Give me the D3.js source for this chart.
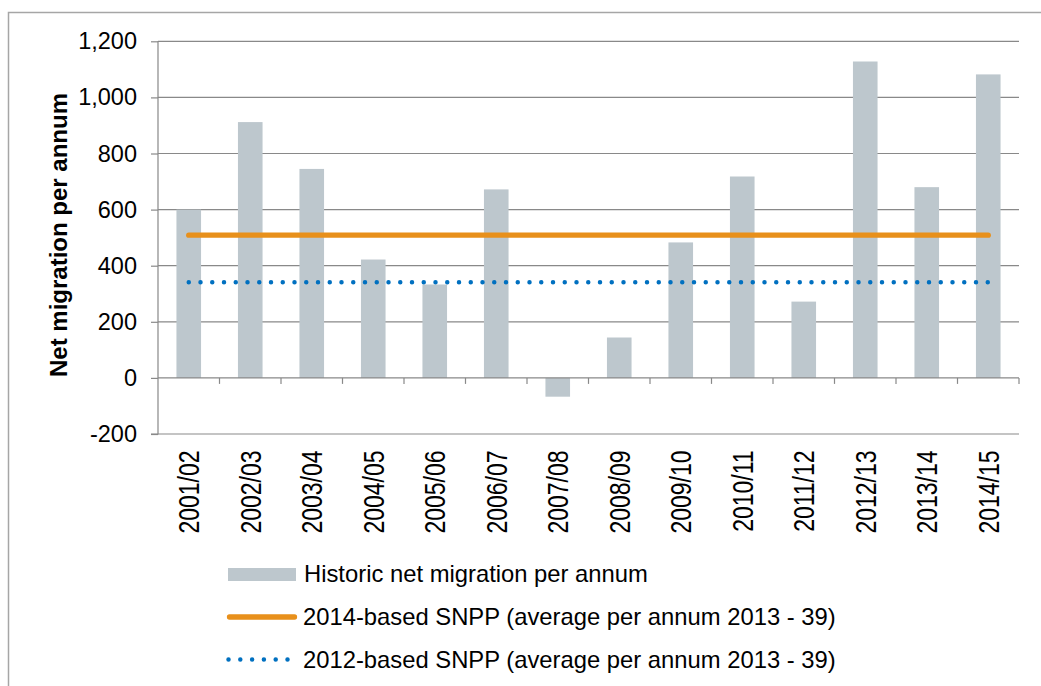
<!DOCTYPE html>
<html lang="en">
<head>
<meta charset="utf-8">
<title>Net migration</title>
<style>
	body { margin: 0; background: #fff; }
	svg { display: block; font-family: Arial, "Liberation Sans", sans-serif; }
	.tick-label { font-size: 23.5px; fill: #000; }
	.legend-text { font-size: 23.8px; fill: #000; }
</style>
</head>
<body>
<svg width="1041" height="686"></svg>
<script src="https://d3js.org/d3.v7.min.js"></script>
<script>
	// data
	var years = ["2001/02", "2002/03", "2003/04", "2004/05", "2005/06", "2006/07", "2007/08",
		"2008/09", "2009/10", "2010/11", "2011/12", "2012/13", "2013/14", "2014/15"];
	var historic = [600, 912, 745, 422, 333, 672, -67, 144, 483, 718, 272, 1128, 680, 1082];
	var snpp2014 = 509;
	var snpp2012 = 341;
	var yTicks = [-200, 0, 200, 400, 600, 800, 1000, 1200];
	var legendLabels = ["Historic net migration per annum",
		"2014-based SNPP (average per annum 2013 - 39)",
		"2012-based SNPP (average per annum 2013 - 39)"];

	var svg = d3.select("svg");
	var grey = "#898989";

	// outer chart frame
	svg.append("rect")
		.attr("x", 8.5).attr("y", 12.5)
		.attr("width", 1100).attr("height", 800)
		.attr("fill", "none").attr("stroke", "#a6a6a6").attr("stroke-width", 1.5);

	var plot = { left: 158, right: 1019, top: 41.3, bottom: 434 };

	var x = d3.scaleBand().domain(years)
		.range([plot.left, plot.right])
		.paddingInner(0.6).paddingOuter(0.3);
	var xStep = d3.scaleBand().domain(years).range([plot.left, plot.right]);
	var y = d3.scaleLinear().domain([-200, 1200]).range([plot.bottom, plot.top]);

	// gridlines
	svg.append("g").selectAll("line").data(yTicks.filter(function(d) { return d > 0; }))
		.enter().append("line")
		.attr("x1", plot.left).attr("x2", plot.right)
		.attr("y1", function(d) { return y(d); }).attr("y2", function(d) { return y(d); })
		.attr("stroke", grey).attr("stroke-width", 1.2);

	// bars
	svg.append("g").selectAll("rect").data(historic)
		.enter().append("rect")
		.attr("x", function(d, i) { return x(years[i]); })
		.attr("width", x.bandwidth())
		.attr("y", function(d) { return y(Math.max(0, d)); })
		.attr("height", function(d) { return Math.abs(y(d) - y(0)); })
		.attr("fill", "#bdc7cd");

	// y axis
	var yAxis = svg.append("g")
		.attr("transform", "translate(" + plot.left + ",0)")
		.call(d3.axisLeft(y).tickValues(yTicks).tickSize(7).tickPadding(14)
			.tickFormat(function(d) { return d3.format(",")(d).replace("\u2212", "-"); }));
	yAxis.select(".domain").attr("stroke", grey).attr("stroke-width", 1.2)
		.attr("d", "M-7," + y(-200) + "H0V" + plot.top);
	yAxis.selectAll(".tick line").attr("stroke", grey).attr("stroke-width", 1.2);
	yAxis.attr("font-size", null).attr("font-family", null);
	yAxis.selectAll(".tick text").attr("class", "tick-label").attr("fill", "#000");
	// bottom line at -200
	svg.append("line")
		.attr("x1", plot.left).attr("x2", plot.right)
		.attr("y1", y(-200)).attr("y2", y(-200))
		.attr("stroke", grey).attr("stroke-width", 1.2);

	// x axis along zero
	var zeroY = y(0);
	svg.append("line")
		.attr("x1", plot.left).attr("x2", plot.right)
		.attr("y1", zeroY).attr("y2", zeroY)
		.attr("stroke", grey).attr("stroke-width", 1.2);
	svg.append("g").selectAll("line").data(years)
		.enter().append("line")
		.attr("x1", function(d) { return xStep(d) + xStep.step(); })
		.attr("x2", function(d) { return xStep(d) + xStep.step(); })
		.attr("y1", zeroY).attr("y2", zeroY + 6)
		.attr("stroke", grey).attr("stroke-width", 1.2);

	// category labels, rotated (glyphs a bit wider than tall in the original)
	svg.append("g").selectAll("text").data(years)
		.enter().append("text")
		.attr("text-anchor", "end")
		.style("font-size", "23px")
		.attr("transform", function(d) {
			return "translate(" + (x(d) + x.bandwidth() / 2 + 10.5) + "," + (plot.bottom + 16.5) + ") rotate(-90) scale(1,1.25)";
		})
		.text(function(d) { return d; });

	// projection lines
	var first = x(years[0]) + x.bandwidth() / 2;
	var last = x(years[years.length - 1]) + x.bandwidth() / 2;
	svg.append("line")
		.attr("x1", first).attr("x2", last)
		.attr("y1", y(snpp2014)).attr("y2", y(snpp2014))
		.attr("stroke", "#e8901b").attr("stroke-width", 5.3).attr("stroke-linecap", "round");
	svg.append("line")
		.attr("x1", first).attr("x2", last)
		.attr("y1", y(snpp2012)).attr("y2", y(snpp2012))
		.attr("stroke", "#0070c0").attr("stroke-width", 4.5)
		.attr("stroke-linecap", "round").attr("stroke-dasharray", "0 11.75");

	// y axis title
	svg.append("text")
		.attr("transform", "translate(67,235) rotate(-90)")
		.attr("text-anchor", "middle")
		.style("font-size", "24px").style("font-weight", "bold")
		.text("Net migration per annum");

	// legend
	var lg = svg.append("g");
	lg.append("rect").attr("x", 228).attr("y", 568).attr("width", 68).attr("height", 13).attr("fill", "#bdc7cd");
	lg.append("line").attr("x1", 229.5).attr("x2", 294.5).attr("y1", 617).attr("y2", 617)
		.attr("stroke", "#e8901b").attr("stroke-width", 5.3).attr("stroke-linecap", "round");
	lg.append("line").attr("x1", 228.5).attr("x2", 288).attr("y1", 659.5).attr("y2", 659.5)
		.attr("stroke", "#0070c0").attr("stroke-width", 4.5)
		.attr("stroke-linecap", "round").attr("stroke-dasharray", "0 11.8");
	lg.selectAll("text").data(legendLabels)
		.enter().append("text")
		.attr("class", "legend-text")
		.attr("x", function(d, i) { return i == 0 ? 304 : 303; })
		.attr("y", function(d, i) { return 582 + i * 43; })
		.text(function(d) { return d; });
</script>
</body>
</html>
